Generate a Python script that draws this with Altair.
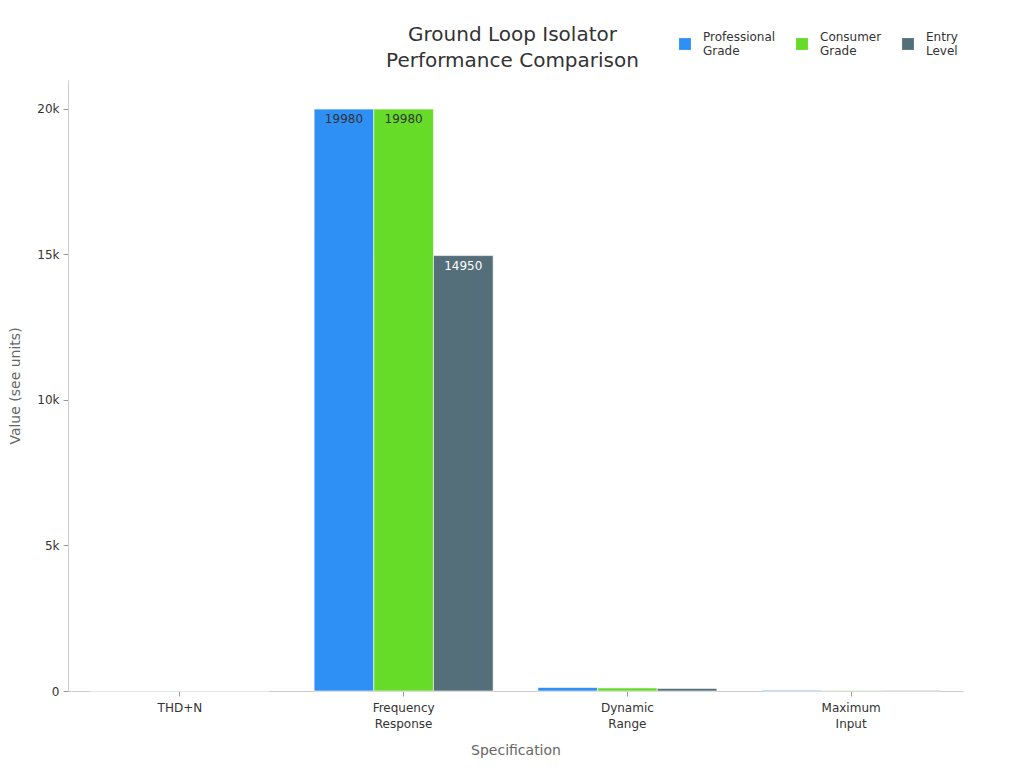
import altair as alt
import pandas as pd

categories = ["THD+N", "Frequency Response", "Dynamic Range", "Maximum Input"]
series = ["Professional Grade", "Consumer Grade", "Entry Level"]
professional = [0.001, 19980, 120, 24]
consumer = [0.01, 19980, 105, 20]
entry = [0.1, 14950, 90, 18]
colors = ["#2E90F5", "#66DB28", "#546E7A"]

rows = []
for s, vals in zip(series, [professional, consumer, entry]):
    for c, v in zip(categories, vals):
        rows.append({"category": c, "series": s, "value": v})
df = pd.DataFrame(rows)

font = "DejaVu Sans"

x = alt.X("category:N", sort=categories, title="Specification",
          scale=alt.Scale(paddingInner=0.2, paddingOuter=0.1),
          axis=alt.Axis(labelAngle=0, labelExpr="split(datum.label, ' ')",
                        labelFontSize=12, labelColor="#333", labelPadding=6,
                        titleFontSize=14, titleColor="#666", titleFontWeight="normal",
                        titlePadding=14, domainColor="#ccc", tickColor="#999",
                        tickSize=5, labelLineHeight=16))
y = alt.Y("value:Q", title="Value (see units)",
          scale=alt.Scale(domain=[0, 20979], nice=False),
          axis=alt.Axis(format="~s", values=[0, 5000, 10000, 15000, 20000],
                        labelExpr="datum.value == 0 ? '0' : datum.label",
                        labelFontSize=12, labelColor="#333", grid=False,
                        titleFontSize=14, titleColor="#666", titleFontWeight="normal",
                        titlePadding=14, domainColor="#ccc", tickColor="#999",
                        tickSize=5, labelPadding=4))

base = alt.Chart(df).encode(
    x=x,
    xOffset=alt.XOffset("series:N", sort=series),
    y=y,
)

bars = base.mark_bar(stroke="white", strokeWidth=1, strokeOpacity=0.6).encode(
    color=alt.Color("series:N", sort=series,
                    scale=alt.Scale(domain=series, range=colors),
                    legend=alt.Legend(title=None, orient="none", direction="horizontal",
                                      legendX=611, legendY=-42,
                                      symbolType="square", symbolSize=140,
                                      symbolStrokeWidth=0,
                                      labelExpr="split(datum.label, ' ')",
                                      labelFontSize=12, labelColor="#333",
                                      labelBaseline="bottom",
                                      labelOffset=12, columnPadding=20)),
)

labels = base.transform_filter(alt.datum.value > 1000).mark_text(
    baseline="top", dy=5, fontSize=12, font=font
).encode(
    text=alt.Text("value:Q", format="d"),
    color=alt.condition(alt.datum.series == "Entry Level",
                        alt.value("white"), alt.value("#333")),
)

chart = alt.layer(bars, labels).properties(
    width=895, height=611,
    title=alt.Title(["Ground Loop Isolator", "Performance Comparison"],
                    fontSize=20, font=font, fontWeight="normal", color="#333",
                    anchor="middle", offset=-33, dx=-3, lineHeight=26),
    autosize=alt.AutoSizeParams(type="none"),
    padding={"left": 60, "top": 72, "right": 53, "bottom": 69},
).configure(font=font).configure_view(stroke=None)

chart.save("out.html", embed_options={"renderer": "svg", "actions": False})
